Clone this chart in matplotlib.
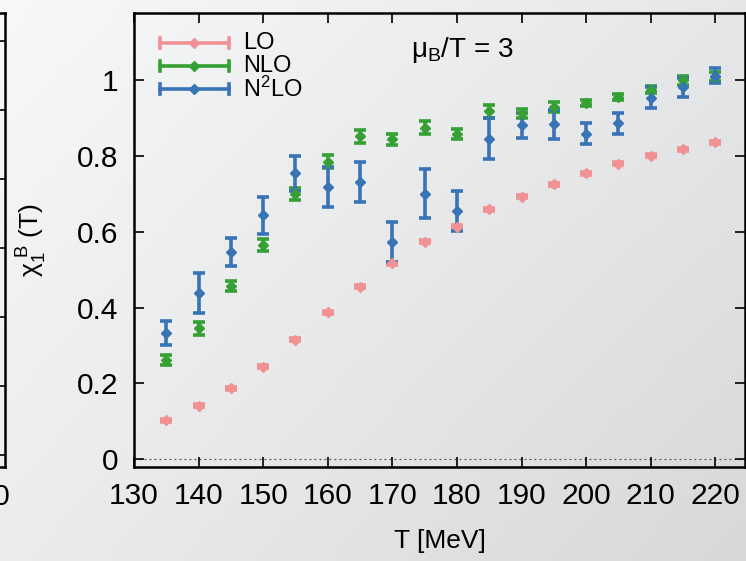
import numpy as np
import matplotlib.pyplot as plt

plt.rcParams["font.family"] = ["Liberation Sans", "DejaVu Sans"]
plt.rcParams["mathtext.fontset"] = "custom"
plt.rcParams["mathtext.rm"] = "Liberation Sans"
plt.rcParams["mathtext.it"] = "Liberation Sans:italic"

# temperatures [MeV]
T = [135, 140, 145, 150, 155, 160, 165, 170, 175,
     180, 185, 190, 195, 200, 205, 210, 215, 220]

# chi_1^B at mu_B/T = 3
lo = [0.103, 0.141, 0.187, 0.244, 0.315, 0.387, 0.455, 0.517, 0.574,
      0.613, 0.659, 0.692, 0.725, 0.754, 0.780, 0.800, 0.818, 0.836]
lo_err = [0.004] * len(T)

nlo = [0.262, 0.345, 0.458, 0.565, 0.700, 0.785, 0.852, 0.844, 0.874,
       0.857, 0.918, 0.912, 0.930, 0.939, 0.956, 0.975, 1.000, 1.009]
nlo_err = [0.013, 0.017, 0.013, 0.015, 0.015, 0.018, 0.017, 0.015, 0.017,
           0.013, 0.017, 0.013, 0.013, 0.008, 0.008, 0.010, 0.012, 0.012]

n2lo = [0.332, 0.438, 0.546, 0.644, 0.754, 0.718, 0.732, 0.574, 0.700,
        0.655, 0.846, 0.881, 0.883, 0.859, 0.886, 0.954, 0.981, 1.012]
n2lo_err = [0.032, 0.052, 0.037, 0.049, 0.047, 0.052, 0.053, 0.053, 0.065,
            0.052, 0.055, 0.033, 0.038, 0.028, 0.027, 0.028, 0.025, 0.020]

labels = ["LO", "NLO", r"N$^2$LO"]
colors = ["#f09193", "#35a033", "#3873b6"]

fig = plt.figure(figsize=(7.46, 5.61), dpi=100)

# shaded slide background
bg = fig.add_axes([0, 0, 1, 1], zorder=-10)
u, v = np.meshgrid(np.linspace(0, 1, 200), np.linspace(0, 1, 150))
c = (247 - 17 * u - 12 * v - 3 * u * v) / 255.0
img = np.dstack([c, c + 1 / 255.0, c + 2 / 255.0])
bg.imshow(np.clip(img, 0, 1), aspect="auto", extent=[0, 1, 0, 1], origin="upper")
bg.axis("off")

# neighbouring panel, only its right edge is visible
ax0 = fig.add_axes([-0.8, 0.168, 0.8067, 0.8094])
ax0.set_facecolor("none")
ax0.set_xlim(130, 223)
ax0.set_ylim(-0.17, 6.405)
ax0.set_xticks([220])
ax0.set_xticklabels(["220"])
ax0.set_yticks(range(7))
ax0.tick_params(direction="in", length=7, width=1.2, right=True, top=True,
                labelsize=21.5, pad=12, labelleft=False)
for s in ax0.spines.values():
    s.set_linewidth(1.8)

ax = fig.add_axes([0.1796, 0.168, 0.8191, 0.8094])
ax.set_facecolor("none")

for y, e, col in zip([lo, nlo, n2lo], [lo_err, nlo_err, n2lo_err], colors):
    ax.errorbar(T, y, yerr=e, fmt="D", color=col, ms=5.6, elinewidth=2.6,
                capsize=4, capthick=2.6, zorder=3)

ax.axhline(0, color="#555555", lw=0.9, ls=(0, (1.5, 2.5)), zorder=1)

ax.set_xlim(130, 224.6)
ax.set_ylim(-0.02, 1.178)
ax.set_xticks(range(130, 221, 10))
ax.set_yticks([0, 0.2, 0.4, 0.6, 0.8, 1])
ax.set_yticklabels(["0", "0.2", "0.4", "0.6", "0.8", "1"])
ax.tick_params(direction="in", length=7, width=1.2, right=True, top=True,
               labelsize=21.5, pad=11)
for s in ax.spines.values():
    s.set_linewidth(1.8)

ax.set_xlabel("T [MeV]", fontsize=19, labelpad=14)
ax.set_ylabel(r"χ$_1^{\ \mathrm{B}}$ (T)", fontsize=19)
ax.yaxis.set_label_coords(-0.139, 0.5)

ax.text(0.453, 0.903, r"μ$_{\mathrm{B}}$/T = 3", transform=ax.transAxes,
        fontsize=20, va="baseline", ha="left")

# gnuplot style key: line with caps at both ends, marker in the middle
x0, x1 = 0.042, 0.156
for i, (lab, col) in enumerate(zip(labels, colors)):
    yk = 0.933 - i * 0.0505
    ax.plot([x0, x1], [yk, yk], color=col, lw=2.6, transform=ax.transAxes)
    for xc in (x0, x1):
        ax.plot([xc, xc], [yk - 0.011, yk + 0.011], color=col, lw=2.6,
                transform=ax.transAxes)
    ax.plot([(x0 + x1) / 2], [yk], "D", color=col, ms=5.6, transform=ax.transAxes)
    ax.text(0.178, yk, lab, transform=ax.transAxes, fontsize=17,
            va="center", ha="left")

fig.savefig("out.png", dpi=100)
